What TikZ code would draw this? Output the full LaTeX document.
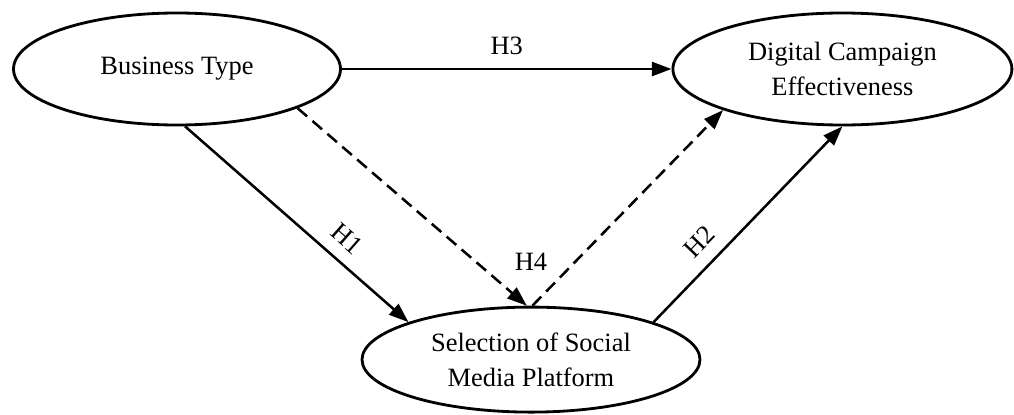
\documentclass[tikz,border=0pt]{standalone}
\usepackage{fontspec}
\setmainfont{Liberation Serif}
\usepackage{tikz}
\usetikzlibrary{arrows.meta,positioning,shapes.geometric}

\tikzset{
  construct/.style={draw,ellipse,line width=2pt,inner sep=0pt,align=center,
    font=\fontsize{18.8}{25}\selectfont,minimum height=2.8cm},
  path/.style={-{Triangle[length=14pt,width=10pt]},line width=1.8pt},
  moderated/.style={path,dash pattern=on 9pt off 5pt},
  hyp/.style={font=\fontsize{18.8}{22}\selectfont,inner sep=2pt}
}

\begin{document}
\begin{tikzpicture}
        \useasboundingbox (0,0) rectangle (25.35,10.35);
        % constructs
        \node[construct,minimum width=8.175cm] (bt) at (4.425,8.625) {Business Type};
        \node[construct,minimum width=8.475cm] (dce) at (21.06,8.625) {Digital Campaign\\Effectiveness};
        \node[construct,minimum width=8.45cm,minimum height=2.625cm] (sel) at (13.275,1.36) {Selection of Social\\Media Platform};
        % direct paths
        \draw[path] (bt.east) -- node[hyp,above=7pt] (h3) {H3} (dce.west);
        \draw[path] (bt.-82) -- node[hyp,pos=0.66,sloped,above=7pt] (h1) {H1} (sel.163);
        \draw[path] (sel.17) -- node[hyp,pos=0.33,sloped,above=7pt] (h2) {H2} (dce.south);
        % moderation
        \draw[moderated] (bt.-18) -- ([xshift=-3pt]sel.north);
        \draw[moderated] ([xshift=1pt]sel.north) -- (dce.-161);
        \node[hyp,inner sep=0pt,above=0.88cm of sel.north] (h4) {H4};
      \end{tikzpicture}
\end{document}
